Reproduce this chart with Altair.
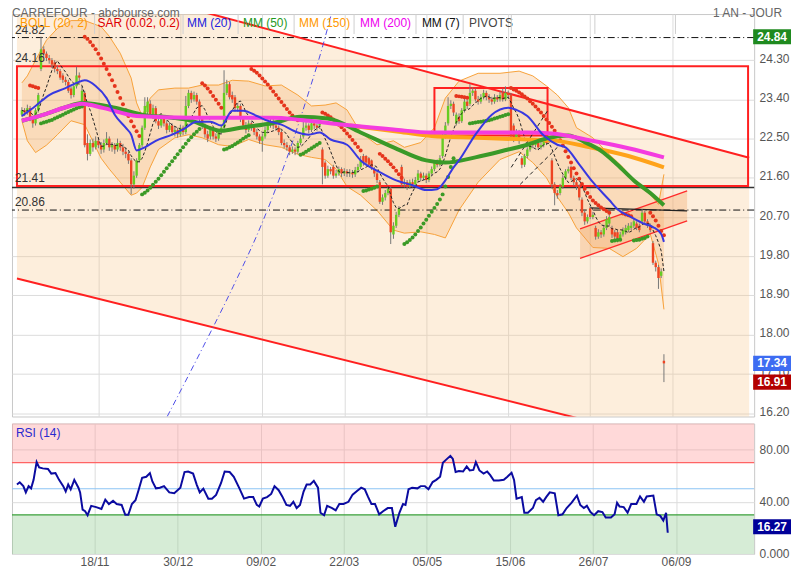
import altair as alt
import pandas as pd

# ---------------- candles (trading-day index 0..235) ----------------
opn = [23.05, 23.15, 23.10, 23.20, 22.95, 22.85, 23.15, 24.10, 24.55, 24.45,
       24.35, 24.30, 24.25, 24.10, 24.05, 23.95, 23.85, 23.80, 23.65, 23.50,
       23.70, 23.95, 23.30, 23.55, 22.40, 22.15, 22.40, 22.30, 22.45, 22.35,
       22.25, 22.40, 22.50, 22.30, 22.35, 22.25, 22.40, 22.30, 22.20, 22.15,
       22.00, 21.45, 21.65, 22.00, 22.35, 22.75, 23.10, 23.30, 23.05, 23.20,
       22.90, 22.80, 22.95, 22.85, 22.70, 22.80, 22.65, 22.70, 22.60, 22.75,
       22.65, 23.25, 23.55, 23.40, 23.50, 23.35, 22.95, 22.80, 22.60, 22.55,
       22.70, 22.55, 22.50, 22.65, 22.75, 23.55, 23.75, 23.50, 23.45, 23.20,
       23.25, 22.95, 22.80, 22.70, 22.85, 22.75, 22.65, 22.55, 22.45, 22.55,
       22.70, 22.80, 22.90, 22.80, 22.75, 22.65, 22.40, 22.35, 22.30, 22.20,
       22.25, 22.20, 22.40, 22.55, 22.75, 22.80, 22.70, 22.85, 22.80, 22.80,
       22.25, 21.95, 21.65, 21.80, 21.85, 21.65, 21.70, 21.80, 21.70, 21.75,
       21.70, 21.72, 21.68, 21.78, 21.85, 22.10, 22.10, 22.05, 22.00, 21.80,
       21.70, 21.50, 21.05, 21.15, 21.25, 21.35, 20.30, 20.50, 20.75, 21.85,
       21.45, 21.50, 21.40, 21.50, 21.45, 21.55, 21.70, 21.60, 21.65, 21.55,
       21.70, 21.80, 21.95, 21.90, 22.10, 22.55, 22.85, 23.25, 23.30, 22.85,
       23.00, 22.90, 23.15, 23.35, 23.30, 23.55, 23.60, 23.40, 23.35, 23.45,
       23.55, 23.45, 23.40, 23.35, 23.45, 23.40, 23.55, 23.40, 23.55, 23.50,
       22.80, 22.50, 22.65, 22.05, 21.90, 22.10, 22.25, 22.40, 22.35, 22.40,
       22.30, 22.35, 22.45, 22.45, 22.00, 21.45, 21.25, 21.25, 21.40, 21.60,
       21.75, 21.85, 21.60, 21.50, 21.40, 21.10, 20.80, 20.60, 20.90, 20.70,
       20.45, 20.25, 20.35, 20.30, 20.45, 20.55, 20.45, 20.35, 20.35, 20.20,
       20.30, 20.35, 20.40, 20.45, 20.50, 20.55, 20.50, 20.60, 20.80, 20.60,
       20.50, 20.10, 19.65, 19.55, 19.35, 17.40]
close = [23.15, 23.10, 23.20, 22.95, 22.85, 23.15, 23.50, 24.55, 24.45, 24.35,
         24.30, 24.20, 24.10, 24.05, 23.90, 23.85, 23.80, 23.60, 23.50, 23.70,
         23.95, 23.90, 23.60, 22.35, 22.15, 22.40, 22.30, 22.45, 22.35, 22.25,
         22.40, 22.50, 22.30, 22.35, 22.25, 22.40, 22.30, 22.20, 22.15, 22.00,
         21.45, 21.65, 22.00, 22.35, 22.75, 23.25, 23.35, 23.05, 23.20, 22.90,
         22.80, 22.95, 22.85, 22.70, 22.80, 22.65, 22.70, 22.60, 22.75, 22.65,
         23.25, 23.55, 23.40, 23.50, 23.35, 22.95, 22.80, 22.60, 22.50, 22.70,
         22.55, 22.50, 22.65, 22.75, 23.55, 23.75, 23.45, 23.40, 23.20, 23.25,
         22.95, 22.80, 22.70, 22.85, 22.75, 22.65, 22.55, 22.45, 22.55, 22.70,
         22.80, 22.90, 22.80, 22.75, 22.65, 22.40, 22.35, 22.30, 22.20, 22.25,
         22.20, 22.40, 22.50, 22.75, 22.80, 22.70, 22.85, 22.80, 22.75, 22.85,
         21.85, 21.65, 21.80, 21.75, 21.65, 21.70, 21.80, 21.70, 21.75, 21.70,
         21.72, 21.68, 21.78, 21.85, 22.00, 21.95, 21.95, 21.90, 21.85, 21.70,
         21.55, 21.05, 21.15, 21.25, 21.35, 20.35, 20.50, 20.75, 20.90, 21.45,
         21.50, 21.40, 21.50, 21.45, 21.55, 21.70, 21.60, 21.65, 21.55, 21.70,
         21.80, 21.95, 21.90, 22.05, 22.55, 22.80, 23.25, 23.30, 23.10, 23.05,
         22.90, 23.15, 23.35, 23.25, 23.55, 23.60, 23.40, 23.35, 23.45, 23.55,
         23.45, 23.40, 23.35, 23.45, 23.40, 23.50, 23.40, 23.55, 23.50, 22.55,
         22.50, 22.65, 22.45, 21.90, 22.10, 22.25, 22.40, 22.35, 22.40, 22.30,
         22.35, 22.45, 22.40, 22.50, 21.45, 21.25, 21.20, 21.40, 21.60, 21.75,
         21.80, 21.60, 21.50, 21.40, 21.15, 20.80, 20.60, 20.70, 20.70, 20.75,
         20.25, 20.35, 20.30, 20.45, 20.65, 20.70, 20.30, 20.25, 20.20, 20.30,
         20.40, 20.45, 20.50, 20.50, 20.60, 20.45, 20.40, 20.80, 20.60, 20.50,
         20.40, 19.65, 19.55, 19.30, 19.45, 17.34]
high = [23.22, 23.20, 23.28, 23.25, 23.00, 23.20, 23.55, 24.84, 24.62, 24.50,
        24.42, 24.35, 24.30, 24.18, 24.10, 24.00, 23.92, 23.85, 23.70, 23.78,
        24.15, 24.02, 23.70, 23.60, 22.60, 22.48, 22.50, 22.55, 22.52, 22.42,
        22.48, 22.65, 22.55, 22.42, 22.40, 22.50, 22.45, 22.38, 22.30, 22.20,
        22.05, 21.75, 22.05, 22.40, 22.80, 23.45, 23.45, 23.38, 23.28, 23.25,
        22.98, 23.02, 23.00, 22.90, 22.88, 22.85, 22.78, 22.75, 22.82, 22.80,
        23.48, 23.62, 23.60, 23.58, 23.55, 23.40, 23.00, 22.85, 22.68, 22.78,
        22.75, 22.62, 22.72, 22.82, 24.07, 23.85, 23.80, 23.58, 23.50, 23.32,
        23.30, 23.00, 22.88, 22.92, 22.90, 22.80, 22.72, 22.60, 22.62, 22.78,
        22.88, 22.98, 22.95, 22.88, 22.80, 22.70, 22.48, 22.42, 22.35, 22.32,
        22.30, 22.45, 22.58, 22.95, 22.88, 22.85, 22.92, 22.90, 22.85, 22.92,
        22.30, 22.00, 21.88, 21.85, 21.90, 21.78, 21.86, 21.84, 21.82, 21.80,
        21.80, 21.78, 21.85, 21.92, 22.10, 22.15, 22.12, 22.08, 22.02, 21.85,
        21.75, 21.55, 21.22, 21.32, 21.40, 21.40, 20.58, 20.82, 20.95, 21.90,
        21.58, 21.55, 21.56, 21.58, 21.62, 21.78, 21.74, 21.72, 21.70, 21.75,
        21.86, 22.00, 22.02, 22.12, 22.62, 22.88, 23.45, 23.38, 23.35, 23.10,
        23.08, 23.20, 23.42, 23.40, 23.75, 23.68, 23.65, 23.48, 23.52, 23.62,
        23.60, 23.52, 23.46, 23.52, 23.50, 23.58, 23.65, 23.70, 23.60, 23.55,
        22.85, 22.72, 22.70, 22.10, 22.15, 22.30, 22.48, 22.45, 22.48, 22.44,
        22.42, 22.52, 22.50, 22.56, 22.05, 21.50, 21.32, 21.46, 21.66, 21.80,
        21.86, 21.88, 21.65, 21.55, 21.45, 21.15, 20.85, 20.76, 20.95, 20.82,
        20.50, 20.42, 20.40, 20.52, 20.72, 20.78, 20.50, 20.40, 20.40, 20.36,
        20.46, 20.52, 20.56, 20.58, 20.68, 20.60, 20.55, 20.88, 20.85, 20.65,
        20.55, 20.15, 19.70, 19.60, 19.52, 17.55]
low = [23.00, 23.02, 23.05, 22.90, 22.75, 22.80, 23.10, 24.05, 24.38, 24.28,
       24.22, 24.12, 24.02, 23.98, 23.85, 23.78, 23.72, 23.55, 23.42, 23.45,
       23.65, 23.80, 23.25, 22.30, 22.00, 22.10, 22.20, 22.25, 22.28, 22.15,
       22.18, 22.35, 22.22, 22.20, 22.15, 22.20, 22.22, 22.12, 22.05, 21.92,
       21.22, 21.35, 21.60, 21.95, 22.30, 22.70, 23.05, 22.98, 22.95, 22.85,
       22.72, 22.75, 22.78, 22.62, 22.65, 22.58, 22.55, 22.52, 22.55, 22.58,
       22.60, 23.20, 23.32, 23.35, 23.28, 22.88, 22.72, 22.52, 22.42, 22.48,
       22.48, 22.42, 22.45, 22.60, 22.70, 23.50, 23.40, 23.32, 23.12, 23.12,
       22.88, 22.72, 22.62, 22.65, 22.68, 22.58, 22.48, 22.38, 22.20, 22.50,
       22.65, 22.75, 22.72, 22.68, 22.58, 22.35, 22.28, 22.22, 22.12, 22.15,
       22.12, 22.15, 22.35, 22.50, 22.68, 22.62, 22.65, 22.72, 22.68, 22.72,
       21.45, 21.58, 21.60, 21.68, 21.58, 21.60, 21.65, 21.62, 21.64, 21.62,
       21.62, 21.60, 21.62, 21.72, 21.80, 21.88, 21.90, 21.85, 21.78, 21.62,
       21.48, 21.00, 20.98, 21.08, 21.20, 20.08, 20.20, 20.45, 20.70, 21.40,
       21.38, 21.32, 21.35, 21.38, 21.40, 21.50, 21.52, 21.55, 21.48, 21.50,
       21.65, 21.75, 21.84, 21.86, 22.05, 22.50, 22.80, 23.18, 23.02, 22.80,
       22.84, 22.86, 23.10, 23.18, 23.25, 23.48, 23.35, 23.28, 23.30, 23.40,
       23.38, 23.32, 23.28, 23.30, 23.34, 23.35, 23.35, 23.36, 23.42, 22.50,
       22.42, 22.45, 22.38, 21.82, 21.85, 22.05, 22.20, 22.28, 22.30, 22.24,
       22.25, 22.30, 22.35, 22.40, 21.35, 20.97, 21.12, 21.20, 21.35, 21.55,
       21.70, 21.55, 21.42, 21.32, 21.08, 20.72, 20.52, 20.55, 20.65, 20.65,
       20.18, 20.20, 20.22, 20.25, 20.40, 20.50, 20.22, 20.18, 20.12, 20.15,
       20.25, 20.30, 20.35, 20.40, 20.45, 20.40, 20.35, 20.55, 20.55, 20.45,
       20.35, 19.60, 19.45, 19.05, 19.30, 16.91]

# ---------------- indicators ----------------
ma20_i = [0, 5, 10, 16, 20, 23, 27, 31, 34, 38, 40, 42, 45, 49, 55, 59, 64, 69, 73, 77,
          81, 86, 90, 95, 101, 105, 109, 113, 119, 124, 131, 137, 143, 148, 152, 155, 158, 160, 166, 172,
          178, 181, 185, 191, 196, 199, 204, 209, 215, 218, 223, 228, 231, 234, 235]
ma20_v = [23.02, 23.25, 23.50, 23.66, 23.78, 23.84, 23.71, 23.43, 23.05, 22.75,
          22.59, 22.23, 22.30, 22.45, 22.59, 22.71, 22.89, 22.89, 22.80, 23.14,
          23.14, 23.02, 22.91, 22.82, 22.64, 22.59, 22.64, 22.48, 22.36, 22.00,
          21.73, 21.54, 21.43, 21.32, 21.34, 21.54, 21.84, 22.00, 22.59, 23.05,
          23.21, 23.16, 23.02, 22.57, 22.36, 22.30, 21.91, 21.50, 21.09, 20.88,
          20.70, 20.54, 20.47, 20.31, 20.13]
ma50_i = [0, 8, 16, 22, 34, 44, 55, 62, 73, 80, 92, 102, 112, 124, 136, 148, 155, 166, 178, 185, 193,
          200, 206, 212, 218, 224, 230, 235]
ma50_v = [22.91, 23.05, 23.22, 23.32, 23.21, 23.05, 22.98, 22.91, 22.68, 22.75, 22.86,
          23.00, 22.96, 22.64, 22.30, 22.00, 21.95, 22.07, 22.25, 22.36, 22.52,
          22.57, 22.42, 22.22, 21.90, 21.54, 21.25, 20.97]
ma150_i = [120, 138, 150, 167, 185, 194, 208, 222, 235]
ma150_v = [22.80, 22.66, 22.56, 22.52, 22.48, 22.46, 22.30, 22.10, 21.84]
ma200_i = [0, 8, 16, 22, 30, 42, 62, 80, 92, 102, 118, 136, 150, 170, 185, 194, 208, 222, 235]
ma200_v = [22.91, 23.05, 23.22, 23.30, 23.20, 23.02, 22.98, 22.98, 22.98, 22.93,
           22.82, 22.71, 22.64, 22.64, 22.64, 22.62, 22.46, 22.28, 22.07]

bb_i = [0, 2, 5, 9, 13, 18, 23, 29, 32, 36, 40, 42, 44, 47, 50, 56, 61, 66, 72, 77,
        83, 89, 95, 101, 106, 111, 115, 119, 124, 130, 136, 140, 146, 151, 155, 160, 167, 175, 182, 187,
        192, 196, 200, 203, 209, 215, 220, 225, 230, 233, 235]
bb_up = [23.78, 23.94, 24.30, 24.76, 25.03, 25.21, 25.21, 25.07, 24.85, 24.46,
         23.89, 23.32, 23.02, 23.43, 23.62, 23.66, 23.66, 23.73, 23.73, 23.84,
         23.82, 23.71, 23.73, 23.50, 23.25, 23.27, 23.32, 23.16, 22.64, 22.36,
         22.45, 22.30, 22.41, 22.75, 23.43, 23.82, 24.00, 24.00, 24.05, 23.94,
         23.71, 23.50, 23.21, 22.75, 22.52, 22.14, 21.84, 21.45, 21.22, 20.99, 21.68]
bb_lo = [22.91, 22.45, 22.18, 22.35, 22.59, 22.91, 22.82, 22.05, 21.80, 21.50,
         21.20, 21.25, 21.38, 21.85, 22.25, 22.52, 22.59, 22.52, 22.36, 22.32,
         22.48, 22.36, 22.30, 22.14, 22.07, 22.02, 21.80, 21.40, 21.20, 20.85,
         20.40, 20.33, 20.36, 20.30, 20.22, 20.86, 21.50, 22.02, 22.20, 21.95,
         21.60, 21.16, 20.80, 20.45, 20.00, 19.98, 19.79, 19.98, 20.31, 19.63, 18.58]

# parabolic SAR: (side, first index, daily values)
sar_segments = [
    ("r", 3, [23.72, 23.70, 23.68, 23.66]),
    ("g", 7, [22.85, 22.87, 22.89, 22.91, 22.93, 22.96, 22.99, 23.02, 23.05, 23.08,
              23.11, 23.14, 23.17, 23.20, 23.22, 23.24]),
    ("r", 23, [24.84, 24.79, 24.72, 24.64, 24.55, 24.45, 24.34, 24.22, 24.10, 23.97,
               23.84, 23.71, 23.57, 23.43, 23.29, 23.15, 23.02, 22.90, 22.78, 22.67, 22.56]),
    ("g", 44, [21.22, 21.26, 21.31, 21.37, 21.44, 21.51, 21.58, 21.66, 21.74, 21.82,
               21.90, 21.98, 22.06, 22.14, 22.22, 22.30, 22.38, 22.46, 22.53, 22.60, 22.66, 22.72]),
    ("r", 66, [23.77, 23.72, 23.65, 23.57, 23.48, 23.39, 23.30, 23.21]),
    ("g", 74, [22.25, 22.27, 22.30, 22.33, 22.37, 22.41, 22.45, 22.50, 22.54, 22.58]),
    ("r", 84, [24.10, 24.06, 24.01, 23.95, 23.88, 23.81, 23.74, 23.66, 23.58, 23.50,
               23.42, 23.34, 23.26, 23.18, 23.10, 23.03, 22.97, 22.92]),
    ("g", 102, [22.13, 22.16, 22.20, 22.24, 22.28, 22.32, 22.36, 22.40]),
    ("r", 110, [23.10, 23.07, 23.03, 22.99, 22.94, 22.88, 22.82, 22.76, 22.69, 22.62,
                22.55, 22.47, 22.39, 22.31, 22.23]),
    ("g", 125, [21.30, 21.31, 21.33, 21.35, 21.37, 21.40]),
    ("r", 131, [22.15, 22.10, 22.04, 21.98, 21.91, 21.84, 21.76, 21.68, 21.60]),
    ("g", 140, [20.08, 20.12, 20.17, 20.23, 20.30, 20.38, 20.46, 20.55, 20.64, 20.73,
                20.82, 20.91, 21.00, 21.10, 21.22, 21.40, 21.62, 21.85, 22.05]),
    ("r", 159, [23.48, 23.47, 23.46, 23.45, 23.44]),
    ("g", 164, [22.85, 22.86, 22.87, 22.88, 22.89, 22.90, 22.91, 22.92, 22.94, 22.96,
                22.98, 23.00, 23.02, 23.04, 23.06]),
    ("r", 179, [23.66, 23.63, 23.60, 23.56, 23.52, 23.47, 23.42, 23.36, 23.30, 23.24,
                23.17, 23.10, 23.02, 22.94, 22.86, 22.77, 22.68, 22.58, 22.46, 22.34,
                22.21, 22.08, 21.95, 21.82, 21.70, 21.58, 21.46, 21.35, 21.25, 21.16,
                21.08, 21.02, 20.97, 20.92, 20.88, 20.84, 20.80]),
    ("g", 216, [20.15, 20.16, 20.17, 20.18]),
    ("r", 220, [20.78, 20.76, 20.74, 20.72]),
    ("g", 224, [20.16, 20.17, 20.18, 20.20, 20.22, 20.25]),
    ("r", 230, [20.80, 20.72, 20.62, 20.50, 20.38, 20.28]),
]

# drawn objects (index, price)
trend_i = [-1.8, 266.2]
trend_top = [26.55, 22.06]
trend_bot = [19.29, 15.10]
rect_big = [-1.8, 265.8, 24.16, 21.41]
rect_small = [151, 192.4, 23.66, 22.57]
chan_i = [204.3, 243.5]
chan_up = [20.43, 21.30]
chan_lo = [19.75, 20.61]
pivot_flat_i = [207.9, 243.5]
pivot_flat_p = [20.91, 20.84]
pivot_lines = [(179.1, 21.84, 192.4, 23.14), (182.4, 21.45, 196.0, 22.30)]
arc_i = [53.2, 66.5, 77.3, 88.1, 97.1, 104.3, 110.4, 113.3]
arc_p = [16.12, 17.74, 19.10, 20.59, 22.07, 23.43, 24.69, 25.37]
dashdot_levels = [24.82, 20.86]
solid_levels = [21.38]
left_labels = [24.82, 24.16, 21.41, 20.86]
right_boxes = [24.84, 17.34, 16.91]
right_box_colors = ["#1f8a1f", "#3d6cf2", "#b30000"]

# RSI vertices
rsi_i = [0, 1, 2.3, 3.2, 4.2, 5.1, 6, 7.1, 8, 9.3,
         11.2, 12.4, 13.9, 15.2, 16.7, 17.6, 18.5, 19.4, 20.7, 22.2,
         22.8, 23.7, 24.6, 25.5, 26.8, 28.6, 30.5, 31.9, 33.2, 34.7,
         36, 37.8, 39.1, 40.2, 41.5, 42.8, 43.9, 45.2, 46.7, 48,
         48.9, 50.2, 51.6, 53.1, 55, 56.8, 59, 60.5, 61.8, 63.6,
         64.9, 66, 67.3, 69.1, 70.4, 71.9, 73.7, 75, 76.8, 78.3,
         80.2, 82, 83.8, 85.3, 86.6, 87.5, 88.8, 90.3, 91.8, 93,
         94.5, 95.8, 97.3, 98.6, 99.8, 101, 102.2, 103.5, 104.6, 105.9,
         107.2, 108.7, 109.6, 110.9, 112, 113.8, 115.1, 116.4, 117.9, 119.7,
         121.2, 122.9, 124.3, 125.6, 126.7, 128, 129.3, 130.8, 132.2, 133.9,
         135.4, 136.6, 138.1, 139.4, 140.3, 141.4, 142.7, 144.6, 145.8, 147.3,
         148.6, 150.1, 151.4, 152.8, 153.8, 155, 156.5, 157.4, 158.4, 159.6,
         161.1, 162.4, 163.5, 164.8, 165.7, 167, 168.5, 169.8, 170.9, 172.2,
         174, 175.8, 177.1, 178.6, 179.5, 180.4, 182.3, 183.2, 184.5, 186.3,
         187.4, 188.7, 190, 191.1, 192.4, 194.2, 195.5, 197, 198.5, 200.3,
         202.2, 203.4, 204.7, 205.8, 207.1, 208.4, 209.9, 211.4, 212.6, 214.5,
         215.8, 216.7, 217.6, 219.1, 220.5, 221.8, 223.7, 225, 226.4, 227.4,
         229.8, 231, 232.3, 233.4, 234.4, 235]
rsi_v = [53.2, 54.9, 52, 47.2, 52, 50.3, 56.8, 70.4, 66.3, 65.6,
         65.2, 61.6, 62, 56.8, 52, 47.9, 53.2, 49.6, 56.8, 50.8,
         47.2, 34, 32.8, 29.7, 36.9, 35.9, 34.5, 41.7, 38.3, 40.7,
         38.3, 37.6, 30, 30, 38.3, 41.2, 48.9, 58.4, 59.2, 62,
         55.6, 50.3, 50.8, 52, 47.2, 46.5, 50.8, 62.8, 63.2, 61.6,
         53.2, 47.2, 50.1, 42.4, 42.4, 45.3, 54.4, 63.2, 62.8, 59.2,
         50.8, 42.4, 43.6, 43.6, 37.6, 36.4, 42.4, 43.6, 46, 52,
         48.9, 44.1, 37.6, 36.9, 40, 35.2, 37.6, 47.9, 53.2, 53.2,
         56, 50.8, 31.6, 29.7, 36.9, 35.2, 33.5, 38.3, 38.3, 40,
         45.5, 48.4, 50.8, 49.6, 44.1, 38.3, 38.3, 30.4, 32.8, 35.2,
         35.2, 20.8, 31.6, 38.3, 37.6, 49.6, 50.8, 50.3, 52, 52,
         49.6, 55.1, 56.8, 59.2, 69.9, 72.3, 75.2, 72.8, 62.8, 63.5,
         63.2, 67.1, 64, 64.4, 70.4, 64, 61.6, 63.2, 60.4, 56.3,
         56.3, 56.8, 59.2, 62.3, 56.8, 42.4, 43.6, 31.6, 31.6, 35.2,
         41.2, 43.1, 40, 43.6, 47.2, 46.5, 29.7, 30.4, 35.2, 39.3,
         44.8, 37.6, 35.2, 36.9, 32.1, 29.7, 32.8, 32.1, 28, 28,
         30.4, 39.3, 36.4, 35.9, 31.6, 38.3, 38.3, 44.1, 40, 44.1,
         44.8, 30.4, 29.2, 25.6, 31.6, 16.27]

tick_idx = [28, 58, 88, 118, 148, 178, 208, 238]
tick_lbl = ["18/11", "30/12", "09/02", "22/03", "05/05", "15/06", "26/07", "06/09"]
price_ticks = [16.2, 17.1, 18.0, 18.9, 19.8, 20.7, 21.6, 22.5, 23.4, 24.3]
rsi_ticks = [0, 40, 80]

legend_text = ["BOLL (20, 2)", "SAR (0.02, 0.2)", "MM (20)", "MM (50)", "MM (150)",
               "MM (200)", "MM (7)", "PIVOTS"]
legend_color = ["#ff9900", "#dd0000", "#2222dd", "#1f9a1f", "#ff9900", "#ee00ee", "#111111", "#444444"]
legend_px = [13, 92, 183, 240, 297, 359, 422, 470]
legend_sep_px = [89, 179, 235, 292, 353, 416, 464, 513, 598, 680]

# ---------------- layout ----------------
W, H1, H2 = 745, 404, 131
XD = [-1.8, 266.2]
FONT = "Liberation Sans"
GRID = "#dcdcdc"
UP_C, DOWN_C = "#66cc22", "#ee4422"
SAR_C = {"r": "#e5341c", "g": "#3b9a26"}
px_to_i = lambda px: (px - 10) * (XD[1] - XD[0]) / W + XD[0]
BOX_X = W + 18

xs = alt.Scale(domain=XD, nice=False, zero=False)
ys = alt.Scale(domain=[16.12, 25.36], nice=False, zero=False)
rs = alt.Scale(domain=[0, 100], nice=False, zero=False)

ax_xt = alt.Axis(values=tick_idx, labels=False, ticks=False, domain=False, grid=True,
                 gridColor=GRID, title=None)
ax_yt = alt.Axis(orient="right", values=price_ticks, format=".2f", grid=True, gridColor=GRID,
                 domain=False, ticks=False, labelColor="#555555", labelFontSize=12, labelFont=FONT,
                 labelPadding=5, labelOffset=-2, title=None)


def X(f="i"):
    return alt.X(f"{f}:Q", scale=xs, axis=ax_xt)


def Y(f):
    return alt.Y(f"{f}:Q", scale=ys, axis=ax_yt)


cdf = pd.DataFrame({"i": list(range(len(close))), "o": opn, "h": high, "l": low, "c": close})
cdf["col"] = [UP_C if c >= o else DOWN_C for o, c in zip(opn, close)]

tr = pd.DataFrame({"i": trend_i, "top": trend_top, "bot": trend_bot})
bb = pd.DataFrame({"i": bb_i, "up": bb_up, "lo": bb_lo})
ch = pd.DataFrame({"i": chan_i, "up": chan_up, "lo": chan_lo})
rects = pd.DataFrame([rect_big, rect_small], columns=["x0", "x1", "y0", "y1"])

sar_rows = []
for side, start, vals in sar_segments:
    for k, v in enumerate(vals):
        sar_rows.append({"i": start + k, "v": v, "col": SAR_C[side]})
sar = pd.DataFrame(sar_rows)

ma = lambda ii, vv: pd.DataFrame({"i": ii, "v": vv})

piv_rows = []
for n, (a, b, c, d) in enumerate(pivot_lines):
    piv_rows += [{"s": n, "i": a, "p": b}, {"s": n, "i": c, "p": d}]
piv = pd.DataFrame(piv_rows)

layers = []
layers.append(alt.Chart(tr).mark_area(color="#f7c78a", opacity=0.3, clip=True).encode(
    x=X(), y=Y("top"), y2=alt.Y2("bot")))
layers.append(alt.Chart(bb).mark_area(color="#f5a55a", opacity=0.26, clip=True).encode(
    x=X(), y=Y("up"), y2=alt.Y2("lo")))
layers.append(alt.Chart(bb).mark_line(color="#f7a23a", strokeWidth=1, clip=True).encode(x=X(), y=Y("up")))
layers.append(alt.Chart(bb).mark_line(color="#f7a23a", strokeWidth=1, clip=True).encode(x=X(), y=Y("lo")))
layers.append(alt.Chart(ch).mark_area(color="#f29a55", opacity=0.3).encode(
    x=X(), y=Y("up"), y2=alt.Y2("lo")))
layers.append(alt.Chart(ch).mark_line(color="#ff2a2a", strokeWidth=1.3).encode(x=X(), y=Y("up")))
layers.append(alt.Chart(ch).mark_line(color="#ff2a2a", strokeWidth=1.3).encode(x=X(), y=Y("lo")))
layers.append(alt.Chart(pd.DataFrame({"p": dashdot_levels})).mark_rule(
    color="#111111", strokeWidth=1, strokeDash=[7, 3, 1, 3]).encode(y=Y("p")))
layers.append(alt.Chart(pd.DataFrame({"p": solid_levels})).mark_rule(
    color="#333333", strokeWidth=1.5).encode(y=Y("p")))
layers.append(alt.Chart(rects).mark_rect(fillOpacity=0, stroke="#ff2020", strokeWidth=2).encode(
    x=X("x0"), x2=alt.X2("x1"), y=Y("y0"), y2=alt.Y2("y1")))
layers.append(alt.Chart(tr).mark_line(color="#ff2020", strokeWidth=2, clip=True).encode(x=X(), y=Y("top")))
layers.append(alt.Chart(tr).mark_line(color="#ff2020", strokeWidth=2, clip=True).encode(x=X(), y=Y("bot")))
layers.append(alt.Chart(ma(arc_i, arc_p)).mark_line(
    color="#4d4de8", strokeWidth=1, strokeDash=[6, 3, 1, 3], interpolate="monotone", clip=True).encode(
    x=X(), y=Y("v")))
layers.append(alt.Chart(pd.DataFrame({"i": pivot_flat_i, "p": pivot_flat_p})).mark_line(
    color="#222222", strokeWidth=1.2).encode(x=X(), y=Y("p")))
layers.append(alt.Chart(piv).mark_line(color="#222222", strokeWidth=1, strokeDash=[4, 3]).encode(
    x=X(), y=Y("p"), detail="s:N"))
# candles
layers.append(alt.Chart(cdf).mark_rule(color="#777777", strokeWidth=1).encode(
    x=X(), y=Y("l"), y2=alt.Y2("h")))
layers.append(alt.Chart(cdf).mark_bar(size=2.4).encode(
    x=X(), y=Y("o"), y2=alt.Y2("c"), color=alt.Color("col:N", scale=None)))
# MA7 computed from closes
layers.append(alt.Chart(cdf).transform_window(
    ma7="mean(c)", frame=[-6, 0], sort=[alt.SortField("i")]).mark_line(
    color="#222222", strokeWidth=1, strokeDash=[3, 2]).encode(x=X(), y=Y("ma7")))
# SAR
layers.append(alt.Chart(sar).mark_circle(size=16, opacity=1).encode(
    x=X(), y=Y("v"), color=alt.Color("col:N", scale=None)))
# moving averages
layers.append(alt.Chart(ma(ma150_i, ma150_v)).mark_line(color="#ffa31a", strokeWidth=4, interpolate="monotone").encode(x=X(), y=Y("v")))
layers.append(alt.Chart(ma(ma50_i, ma50_v)).mark_line(color="#3a9a28", strokeWidth=4, interpolate="monotone").encode(x=X(), y=Y("v")))
layers.append(alt.Chart(ma(ma200_i, ma200_v)).mark_line(color="#f43ce0", strokeWidth=4, interpolate="monotone").encode(x=X(), y=Y("v")))
layers.append(alt.Chart(ma(ma20_i, ma20_v)).mark_line(color="#3838e0", strokeWidth=2, interpolate="monotone").encode(x=X(), y=Y("v")))
# left level labels
layers.append(alt.Chart(pd.DataFrame({"p": left_labels})).mark_text(
    align="left", baseline="bottom", dy=-1, fontSize=12, font=FONT, color="#333333").encode(
    x=alt.value(3), y=Y("p"), text=alt.Text("p:Q", format=".2f")))
# legend row
leg = pd.DataFrame({"i": [px_to_i(p) for p in legend_px], "t": legend_text, "c": legend_color})
layers.append(alt.Chart(leg).mark_text(align="left", baseline="middle", fontSize=12, font=FONT).encode(
    x=X(), y=alt.value(9), text="t:N", color=alt.Color("c:N", scale=None)))
sep = pd.DataFrame({"i": [px_to_i(p) for p in legend_sep_px]})
layers.append(alt.Chart(sep).mark_rule(color="#cfcfcf", strokeWidth=1).encode(
    x=X(), y=alt.value(0), y2=alt.value(20)))
# right value boxes
rb = pd.DataFrame({"p": right_boxes, "c": right_box_colors})
box_shape = "M-1,-0.4L1,-0.4L1,0.4L-1,0.4Z"
layers.append(alt.Chart(rb).mark_point(shape=box_shape, size=1444, filled=True, opacity=1).encode(
    x=alt.value(BOX_X), y=Y("p"), color=alt.Color("c:N", scale=None)))
layers.append(alt.Chart(rb).mark_text(fontSize=12, fontWeight="bold", font=FONT, color="white").encode(
    x=alt.value(BOX_X), y=Y("p"), text=alt.Text("p:Q", format=".2f")))
# header texts
layers.append(alt.Chart(pd.DataFrame({"t": ["CARREFOUR - abcbourse.com"]})).mark_text(
    align="left", baseline="middle", fontSize=12, font=FONT, color="#666666").encode(
    x=alt.value(0), y=alt.value(-1), text="t:N"))
layers.append(alt.Chart(pd.DataFrame({"t": ["1 AN - JOUR"]})).mark_text(
    align="right", baseline="middle", fontSize=12, font=FONT, color="#666666").encode(
    x=alt.value(W + 28), y=alt.value(-1), text="t:N"))

top = alt.layer(*layers).properties(width=W, height=H1)

# ---------------- RSI panel ----------------
lbl_expr = ("[" + ",".join(f"'{t}'" for t in tick_lbl) + "][indexof([" +
            ",".join(str(t) for t in tick_idx) + "], datum.value)]")
ax_xr = alt.Axis(values=tick_idx, labelExpr=lbl_expr, grid=True, gridColor=GRID, ticks=False,
                 domain=False, labelColor="#555555", labelFontSize=12, labelFont=FONT,
                 labelPadding=3, title=None)
ax_yr = alt.Axis(orient="right", values=rsi_ticks,
                 labelExpr="datum.value == 0 ? '0.000' : format(datum.value, '.2f')",
                 grid=True, gridColor=GRID, domain=False, ticks=False, labelColor="#555555",
                 labelFontSize=12, labelFont=FONT, labelPadding=5, title=None)


def XR(f="i"):
    return alt.X(f"{f}:Q", scale=xs, axis=ax_xr)


def YR(f):
    return alt.Y(f"{f}:Q", scale=rs, axis=ax_yr)


zones = pd.DataFrame({"a": [70, 0], "b": [100, 30], "c": ["#ff9c9c", "#93cc93"]})
lvl = pd.DataFrame({"v": [70, 50, 30], "c": ["#ff6464", "#8cc4f4", "#3aa03a"]})
rsi_df = pd.DataFrame({"i": rsi_i, "v": rsi_v})
rsi_last = pd.DataFrame({"v": [rsi_v[-1]]})

r_layers = [
    alt.Chart(zones).mark_rect(opacity=0.38).encode(
        x=alt.value(0), x2=alt.value(W), y=YR("a"), y2=alt.Y2("b"), color=alt.Color("c:N", scale=None)),
    alt.Chart(lvl).mark_rule(strokeWidth=1.2).encode(y=YR("v"), color=alt.Color("c:N", scale=None)),
    alt.Chart(rsi_df).mark_line(color="#0b0ba0", strokeWidth=2).encode(x=XR(), y=YR("v")),
    alt.Chart(pd.DataFrame({"t": ["RSI (14)"]})).mark_text(
        align="left", baseline="middle", fontSize=12, font=FONT, color="#2a2ad0").encode(
        x=alt.value(4), y=alt.value(10), text="t:N"),
    alt.Chart(rsi_last).mark_point(shape=box_shape, size=1444, filled=True, opacity=1, color="#000099",
                                   yOffset=-6).encode(x=alt.value(BOX_X), y=YR("v")),
    alt.Chart(rsi_last).mark_text(fontSize=12, fontWeight="bold", font=FONT, color="white", dy=-6).encode(
        x=alt.value(BOX_X), y=YR("v"), text=alt.Text("v:Q", format=".2f")),
]
rsi = alt.layer(*r_layers).properties(width=W, height=H2)

chart = alt.vconcat(top, rsi, spacing=4).properties(
    padding={"left": 2, "top": -3, "right": 0, "bottom": 0}, background="white"
).configure_view(stroke="#c8c8c8", strokeWidth=1)

chart.save("out.html", embed_options={"renderer": "svg", "actions": False})
